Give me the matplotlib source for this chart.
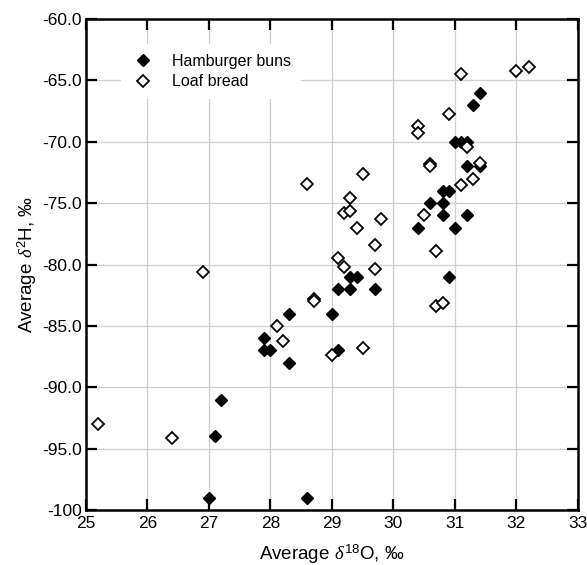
import matplotlib
matplotlib.use("Agg")
import matplotlib.pyplot as plt
from matplotlib.ticker import FixedLocator, FixedFormatter

plt.rcParams['font.family'] = ['Liberation Sans', 'DejaVu Sans']
plt.rcParams['mathtext.fontset'] = 'custom'
plt.rcParams['mathtext.rm'] = 'Liberation Sans'
plt.rcParams['mathtext.it'] = 'Liberation Serif:italic'

# Hamburger buns: average d18O and d2H (per mil)
buns_o18 = [27.0, 28.6, 27.1, 27.2, 27.9, 27.9, 28.0, 28.3, 28.3, 29.0,
            29.1, 29.1, 29.3, 29.3, 29.4, 29.7, 30.4, 30.6, 30.8, 30.9,
            30.8, 30.8, 31.0, 30.9, 31.0, 31.1, 31.2, 31.2, 31.4, 31.2,
            31.3, 31.4]
buns_h2 = [-99.0, -99.0, -94.0, -91.0, -86.0, -87.0, -87.0, -84.0, -88.0, -84.0,
           -82.0, -87.0, -82.0, -81.0, -81.0, -82.0, -77.0, -75.0, -74.0, -74.0,
           -75.0, -76.0, -77.0, -81.0, -70.0, -70.0, -70.0, -72.0, -72.0, -76.0,
           -67.0, -66.0]

# Loaf bread: average d18O and d2H (per mil)
loaf_o18 = [25.2, 26.4, 26.9, 28.1, 28.2, 28.6, 28.7, 28.7, 29.0, 29.1,
            29.2, 29.2, 29.3, 29.3, 29.4, 29.5, 29.5, 29.7, 29.7, 29.8,
            30.4, 30.4, 30.5, 30.6, 30.6, 30.7, 30.7, 30.8, 30.9, 31.1,
            31.1, 31.2, 31.3, 31.4, 32.0, 32.2]
loaf_h2 = [-93.0, -94.1, -80.6, -85.0, -86.2, -73.4, -82.8, -83.0, -87.4, -79.5,
           -80.2, -75.8, -75.6, -74.6, -77.0, -72.6, -86.8, -78.4, -80.4, -76.3,
           -68.7, -69.3, -76.0, -71.8, -72.0, -78.9, -83.4, -83.1, -67.7, -64.5,
           -73.5, -70.4, -73.0, -71.7, -64.2, -63.9]

x_ticks = [25, 26, 27, 28, 29, 30, 31, 32, 33]
y_ticks = [-100, -95, -90, -85, -80, -75, -70, -65, -60]
y_tick_labels = ['-100', '-95.0', '-90.0', '-85.0', '-80.0', '-75.0',
                 '-70.0', '-65.0', '-60.0']

fig = plt.figure(figsize=(5.87, 5.65), dpi=100)
ax = fig.add_axes([0.1465, 0.0973, 0.838, 0.869])

ax.plot(buns_o18, buns_h2, linestyle='none', marker='D', ms=6.5,
        mfc='black', mec='black', mew=1.0, label='Hamburger buns', zorder=3)
ax.plot(loaf_o18, loaf_h2, linestyle='none', marker='D', ms=6.5,
        mfc='white', mec='black', mew=1.3, label='Loaf bread', zorder=3)

ax.set_xlim(25, 33)
ax.set_ylim(-100, -60)
ax.xaxis.set_major_locator(FixedLocator(x_ticks))
ax.yaxis.set_major_locator(FixedLocator(y_ticks))
ax.yaxis.set_major_formatter(FixedFormatter(y_tick_labels))

ax.grid(True, color='#cfcfcf', linewidth=0.9, zorder=0)
ax.set_axisbelow(True)
for side in ax.spines.values():
    side.set_linewidth(1.8)
ax.tick_params(direction='in', length=8, width=1.6, top=True, right=True,
               labelsize=12.5, pad=4, colors='black')
ax.tick_params(axis='y', pad=3)

ax.set_xlabel('Average $\\delta^{18}$O, ‰', fontsize=13.5, labelpad=9)
ax.set_ylabel('Average $\\delta^{2}$H, ‰', fontsize=13.5, labelpad=2)

leg = ax.legend(loc='upper left', bbox_to_anchor=(0.055, 0.965), frameon=True,
                fontsize=11.5, handletextpad=1.1, borderpad=0.6,
                labelspacing=0.35, handlelength=1.5)
leg.get_frame().set_facecolor('white')
leg.get_frame().set_edgecolor('none')
leg.get_frame().set_alpha(1.0)

fig.savefig('out.png', dpi=100)
